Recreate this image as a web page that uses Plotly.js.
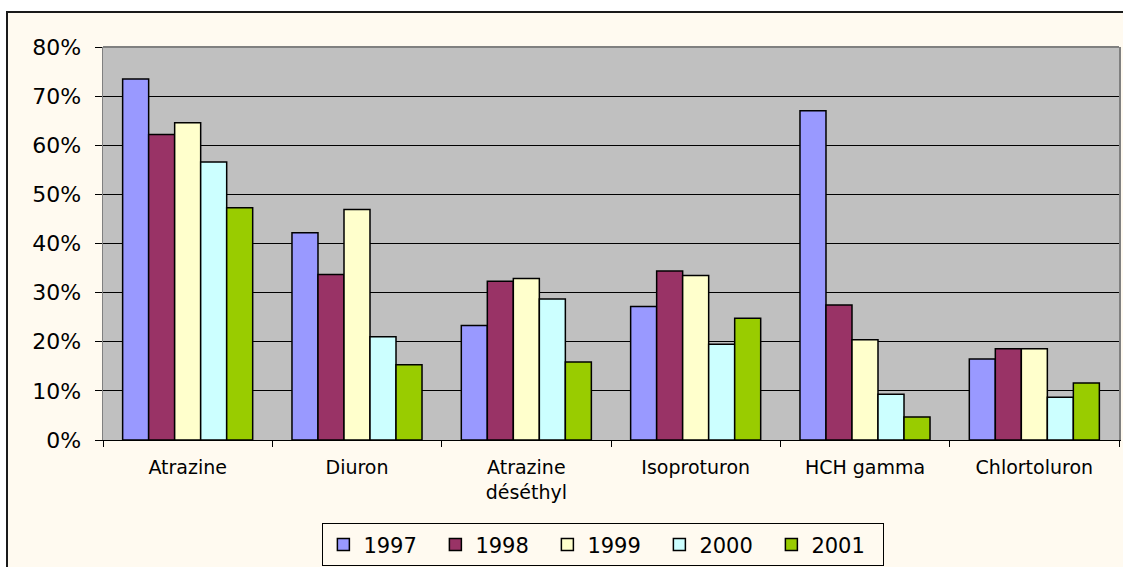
<!DOCTYPE html>
<html>
<head>
<meta charset="utf-8">
<script src="https://cdn.plot.ly/plotly-3.0.1.min.js"></script>
<style>
  html, body { margin: 0; padding: 0; background: #ffffff; overflow: hidden; }
  #wrap { position: absolute; left: 6px; top: 11px; border-top: 2px solid #1a1a1a; border-left: 2px solid #1a1a1a; }
  #plot { width: 1115px; height: 554px; }
</style>
</head>
<body>
<div id="wrap"><div id="plot"></div></div>
<script>
const categories = ["Atrazine", "Diuron", "Atrazine<br>déséthyl", "Isoproturon", "HCH gamma", "Chlortoluron"];
const years = ["1997", "1998", "1999", "2000", "2001"];
const v1997 = [0.735, 0.422, 0.233, 0.272, 0.670, 0.165];
const v1998 = [0.622, 0.337, 0.323, 0.344, 0.275, 0.186];
const v1999 = [0.646, 0.469, 0.329, 0.335, 0.204, 0.186];
const v2000 = [0.566, 0.210, 0.287, 0.195, 0.093, 0.087];
const v2001 = [0.473, 0.153, 0.159, 0.248, 0.047, 0.116];
const colors = ["#9999FF", "#993366", "#FFFFCC", "#CCFFFF", "#99CC00"];
const series = [v1997, v1998, v1999, v2000, v2001];

const traces = series.map((vals, i) => ({
  type: "bar",
  name: years[i],
  x: categories,
  y: vals,
  marker: { color: colors[i], line: { color: "#000000", width: 1.5 } },
  hoverinfo: "none"
}));

const layout = {
  width: 1115,
  height: 554,
  margin: { l: 95, r: 4, t: 34, b: 127, pad: 0, autoexpand: false },
  paper_bgcolor: "#FFFAF0",
  plot_bgcolor: "#C0C0C0",
  barmode: "group",
  bargap: 0.232,
  bargroupgap: 0,
  font: { family: "DejaVu Sans, Liberation Sans, Arial, sans-serif", color: "#000000" },
  showlegend: true,
  legend: {
    orientation: "h",
    x: 0.4925, xanchor: "center",
    y: -0.267, yanchor: "middle",
    bgcolor: "#FFFAF0",
    bordercolor: "#000000",
    borderwidth: 1,
    font: { size: 21, family: "DejaVu Sans, Liberation Sans, sans-serif", color: "#000000" },
    entrywidth: 67,
    traceorder: "normal"
  },
  xaxis: {
    type: "category",
    automargin: false,
    tickson: "boundaries",
    ticks: "outside",
    ticklen: 6,
    tickcolor: "#000000",
    tickwidth: 1,
    showline: true,
    linecolor: "#000000",
    linewidth: 1,
    showgrid: false,
    tickfont: { size: 19, family: "DejaVu Sans, sans-serif", color: "#000000" },
    ticklabelstandoff: 10
  },
  yaxis: {
    range: [0, 0.8],
    automargin: false,
    tickvals: [0, 0.1, 0.2, 0.3, 0.4, 0.5, 0.6, 0.7, 0.8],
    ticktext: ["0%", "10%", "20%", "30%", "40%", "50%", "60%", "70%", "80%"],
    ticks: "outside",
    ticklen: 7,
    tickcolor: "#000000",
    tickwidth: 1,
    showgrid: true,
    gridcolor: "#000000",
    gridwidth: 1,
    zeroline: false,
    showline: true,
    mirror: true,
    linecolor: "#808080",
    linewidth: 1.5,
    tickfont: { size: 22, family: "DejaVu Sans, sans-serif", color: "#000000" },
    ticklabelstandoff: 9
  },
  shapes: [
    { type: "line", xref: "paper", yref: "paper", x0: 0, x1: 1, y0: 1, y1: 1, line: { color: "#808080", width: 2 } }
  ]
};

Plotly.newPlot("plot", traces, layout, { displayModeBar: false, staticPlot: true });
</script>
</body>
</html>
